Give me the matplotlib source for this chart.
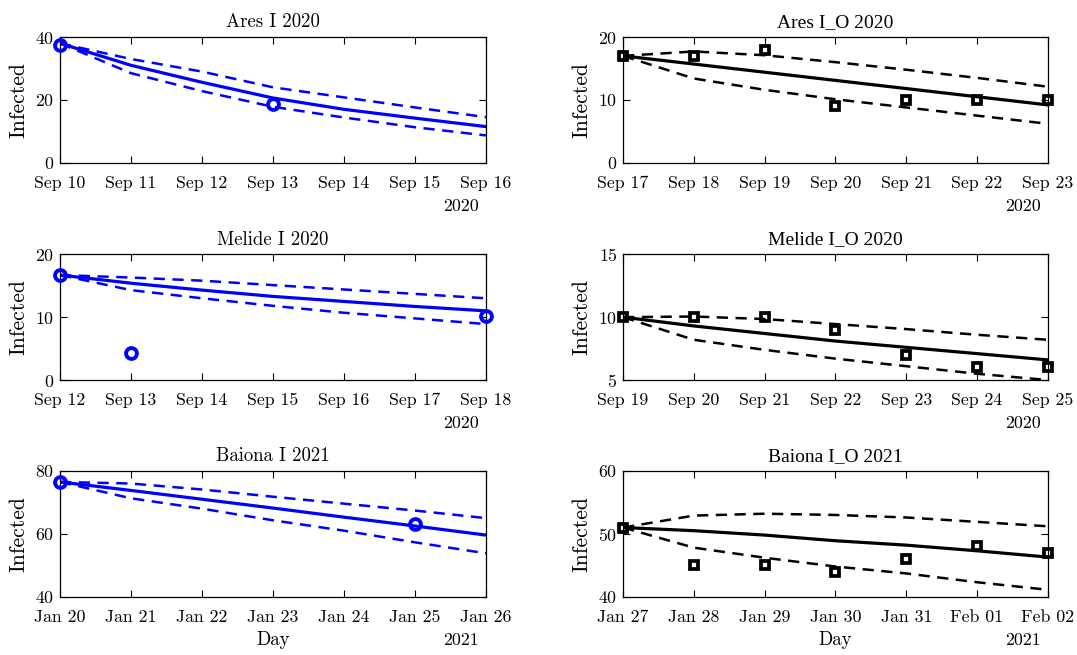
import matplotlib
matplotlib.use("Agg")
import matplotlib.pyplot as plt
import matplotlib.dates as mdates
from datetime import datetime, timedelta

plt.rcParams['font.family'] = ['cmr10', 'DejaVu Serif']
plt.rcParams['axes.formatter.use_mathtext'] = True
plt.rcParams['mathtext.fontset'] = 'cm'

# ---------------- data ----------------
days = [0, 1, 2, 3, 4, 5, 6]

# Ares I 2020 (start Sep 10)
ares_fit = [38.0, 31.0, 25.6, 20.6, 17.0, 14.2, 11.5]
ares_up = [38.0, 33.0, 29.0, 24.0, 20.8, 17.6, 14.5]
ares_lo = [38.0, 28.5, 22.8, 17.8, 14.4, 11.3, 8.7]
ares_obs_days = [0, 3]
ares_obs = [37.5, 18.7]

# Melide I 2020 (start Sep 12)
melide_fit = [16.7, 15.4, 14.3, 13.3, 12.5, 11.7, 11.0]
melide_up = [16.7, 16.3, 15.8, 15.1, 14.4, 13.7, 13.0]
melide_lo = [16.7, 14.3, 13.0, 11.8, 10.7, 9.8, 8.9]
melide_obs_days = [0, 1, 6]
melide_obs = [16.7, 4.3, 10.2]

# Baiona I 2021 (start Jan 20)
baiona_fit = [76.5, 73.8, 71.0, 68.2, 65.3, 62.5, 59.6]
baiona_up = [76.5, 76.0, 74.1, 71.8, 69.6, 67.4, 65.0]
baiona_lo = [76.5, 71.3, 68.0, 64.3, 61.0, 57.3, 53.8]
baiona_obs_days = [0, 5]
baiona_obs = [76.5, 63.0]

# Ares I_O 2020 (start Sep 17)
aresO_fit = [17.0, 15.7, 14.4, 13.1, 11.8, 10.5, 9.2]
aresO_up = [17.0, 17.7, 17.1, 16.0, 14.8, 13.5, 12.1]
aresO_lo = [17.0, 13.4, 11.6, 10.1, 8.8, 7.5, 6.2]
aresO_obs = [17, 17, 18, 9, 10, 10, 10]

# Melide I_O 2020 (start Sep 19)
melideO_fit = [10.0, 9.3, 8.7, 8.1, 7.6, 7.1, 6.6]
melideO_up = [10.0, 10.05, 9.85, 9.45, 9.05, 8.6, 8.2]
melideO_lo = [10.0, 8.2, 7.4, 6.7, 6.1, 5.5, 5.0]
melideO_obs = [10, 10, 10, 9, 7, 6, 6]

# Baiona I_O 2021 (start Jan 27)
baionaO_fit = [51.0, 50.5, 49.8, 48.9, 48.2, 47.3, 46.3]
baionaO_up = [51.0, 52.9, 53.2, 53.0, 52.6, 51.9, 51.2]
baionaO_lo = [51.0, 47.8, 46.2, 44.8, 43.7, 42.3, 41.1]
baionaO_obs = [51, 45, 45, 44, 46, 48, 47]

panels = [
    dict(title="Ares I 2020", start=datetime(2020, 9, 10), fit=ares_fit, up=ares_up, lo=ares_lo,
         od=ares_obs_days, obs=ares_obs, ylim=(0, 40), yt=[0, 20, 40], color='#0000ff', marker='o', year='2020'),
    dict(title="Ares I_O 2020", start=datetime(2020, 9, 17), fit=aresO_fit, up=aresO_up, lo=aresO_lo,
         od=days, obs=aresO_obs, ylim=(0, 20), yt=[0, 10, 20], color='black', marker='s', year='2020'),
    dict(title="Melide I 2020", start=datetime(2020, 9, 12), fit=melide_fit, up=melide_up, lo=melide_lo,
         od=melide_obs_days, obs=melide_obs, ylim=(0, 20), yt=[0, 10, 20], color='#0000ff', marker='o', year='2020'),
    dict(title="Melide I_O 2020", start=datetime(2020, 9, 19), fit=melideO_fit, up=melideO_up, lo=melideO_lo,
         od=days, obs=melideO_obs, ylim=(5, 15), yt=[5, 10, 15], color='black', marker='s', year='2020'),
    dict(title="Baiona I 2021", start=datetime(2021, 1, 20), fit=baiona_fit, up=baiona_up, lo=baiona_lo,
         od=baiona_obs_days, obs=baiona_obs, ylim=(40, 80), yt=[40, 60, 80], color='#0000ff', marker='o', year='2021'),
    dict(title="Baiona I_O 2021", start=datetime(2021, 1, 27), fit=baionaO_fit, up=baionaO_up, lo=baionaO_lo,
         od=days, obs=baionaO_obs, ylim=(40, 60), yt=[40, 50, 60], color='black', marker='s', year='2021'),
]

fig = plt.figure(figsize=(10.77, 6.55), dpi=100)
lefts = [0.0557, 0.5785]
widths = [0.3955, 0.3944]
bottoms = [0.7515, 0.4198, 0.0890]
height = 0.1920

for i, p in enumerate(panels):
    r, c = divmod(i, 2)
    ax = fig.add_axes([lefts[c], bottoms[r], widths[c], height])
    d = [p['start'] + timedelta(days=k) for k in days]
    dobs = [p['start'] + timedelta(days=k) for k in p['od']]
    col = p['color']
    ax.plot(d, p['fit'], '-', color=col, lw=2.3)
    ax.plot(d, p['up'], '--', color=col, lw=1.8, dashes=(4.5, 3))
    ax.plot(d, p['lo'], '--', color=col, lw=1.8, dashes=(4.5, 3))
    if p['marker'] == 'o':
        ax.plot(dobs, p['obs'], 'o', ms=7.8, mfc='none', mec=col, mew=2.8, clip_on=False, zorder=5)
    else:
        ax.plot(dobs, p['obs'], 's', ms=6.3, mfc='none', mec=col, mew=2.7, clip_on=False, zorder=5)
    ax.set_xlim(d[0], d[-1])
    ax.set_ylim(*p['ylim'])
    ax.set_yticks(p['yt'])
    ax.xaxis.set_major_locator(mdates.DayLocator())
    ax.xaxis.set_major_formatter(mdates.DateFormatter('%b %d'))
    ax.tick_params(direction='in', top=True, right=True, length=5, width=0.8, labelsize=12.8)
    ax.tick_params(axis='x', pad=9)
    ax.tick_params(axis='y', pad=4)
    for s in ax.spines.values():
        s.set_linewidth(0.9)
    if '_' in p['title']:
        ax.set_title(p['title'], fontsize=14, pad=7, family=['Liberation Serif'])
    else:
        ax.set_title(p['title'], fontsize=13.5, pad=7)
    ax.set_ylabel('Infected', fontsize=15.5, labelpad=5)
    ax.annotate(p['year'], xy=(1, 0), xycoords='axes fraction', xytext=(-7, -36),
                textcoords='offset pixels', ha='right', va='top', fontsize=12.8)
    if r == 2:
        ax.set_xlabel('Day', fontsize=13.5, labelpad=5)

fig.savefig('out.png', dpi=100)
